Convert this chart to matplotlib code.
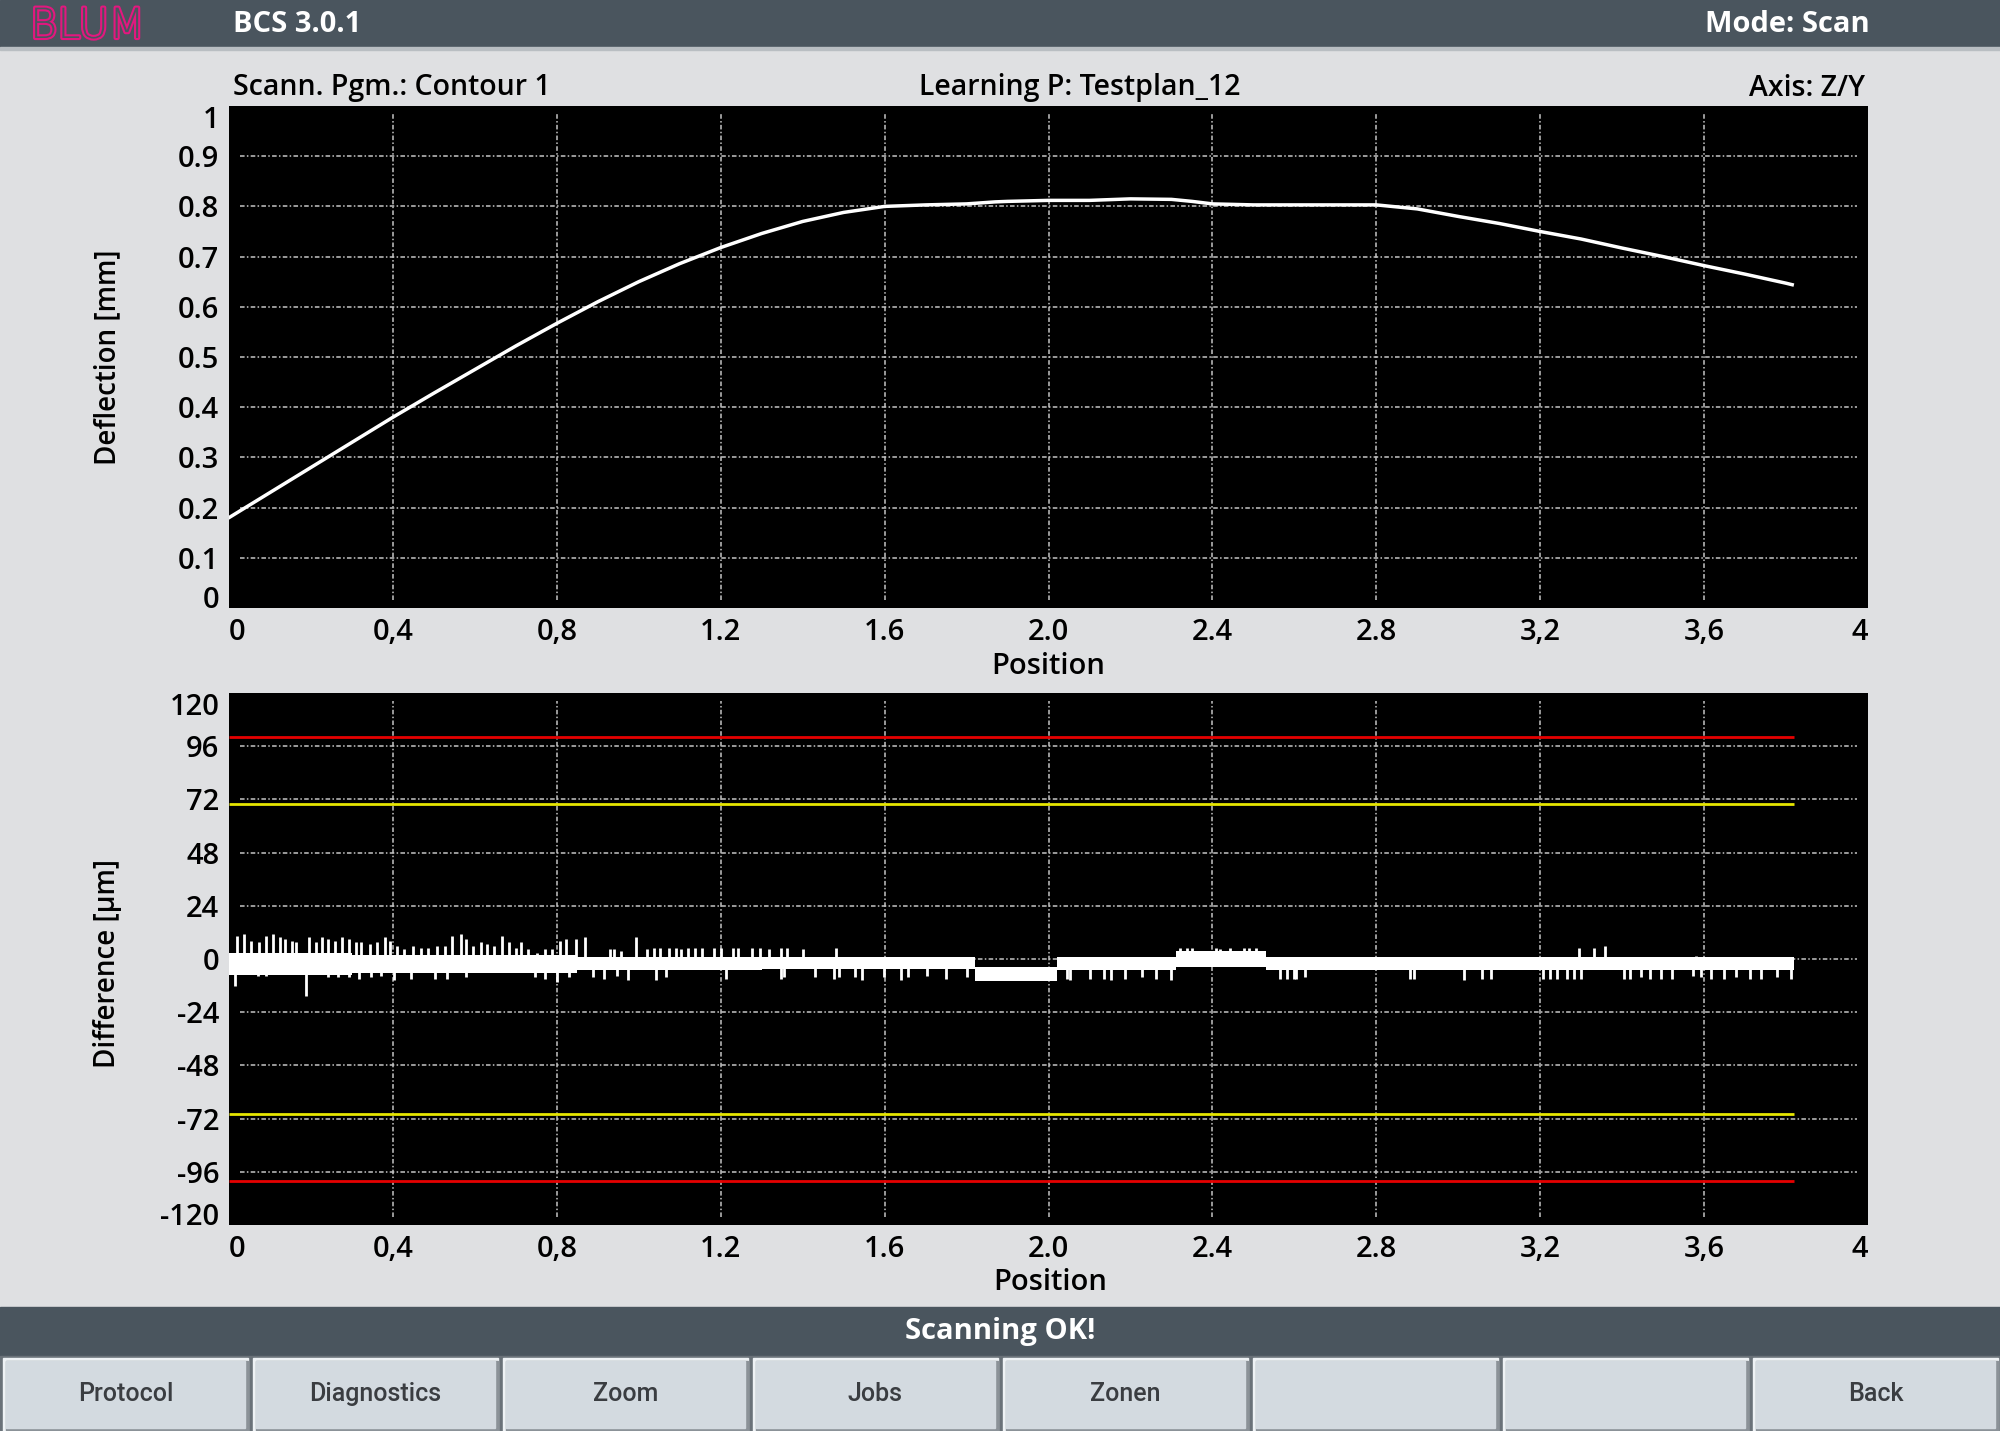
import matplotlib
matplotlib.use("Agg")
import matplotlib.pyplot as plt
import matplotlib.patheffects as pe
from matplotlib.patches import Rectangle

# deflection curve
defl_pos = [0.0, 0.1, 0.2, 0.3, 0.4, 0.5, 0.6, 0.7, 0.8, 0.9, 1.0, 1.1, 1.2, 1.3,
            1.4, 1.5, 1.6, 1.7, 1.8, 1.87, 1.9, 2.0, 2.1, 2.2, 2.3, 2.35, 2.4,
            2.5, 2.6, 2.7, 2.8, 2.9, 3.0, 3.1, 3.2, 3.3, 3.4, 3.5, 3.6, 3.7,
            3.8, 3.815]
defl_mm = [0.180, 0.230, 0.280, 0.330, 0.380, 0.428, 0.475, 0.522, 0.567, 0.610,
           0.650, 0.686, 0.718, 0.746, 0.770, 0.788, 0.800, 0.803, 0.805, 0.809,
           0.810, 0.812, 0.812, 0.815, 0.814, 0.810, 0.805, 0.803, 0.803, 0.803,
           0.803, 0.795, 0.780, 0.766, 0.750, 0.735, 0.717, 0.700, 0.682, 0.665,
           0.647, 0.644]

# difference signal: core band (step segments starting at band_pos)
band_pos = [0.0, 0.3, 0.85, 1.3, 1.82, 2.02, 2.31, 2.53, 3.82]
band_hi = [2.5, 2.0, 1.0, 0.8, -3.5, 0.8, 3.5, 0.8, 0.8]
band_lo = [-7.0, -6.5, -5.0, -4.5, -10.0, -5.0, -3.5, -5.0, -5.0]

# difference signal: spikes (position, µm)
spike_up_pos = [0.019, 0.036, 0.053, 0.074, 0.091, 0.108, 0.125, 0.137, 0.154,
                0.163, 0.196, 0.213, 0.226, 0.242, 0.259, 0.276, 0.293, 0.309,
                0.322, 0.343, 0.360, 0.381, 0.393, 0.410, 0.427, 0.448, 0.469,
                0.486, 0.507, 0.528, 0.545, 0.566, 0.578, 0.595, 0.616, 0.629,
                0.646, 0.667, 0.683, 0.700, 0.713, 0.730, 0.751, 0.772, 0.789,
                0.809, 0.822, 0.847, 0.868, 0.931, 0.940, 0.957, 0.994, 1.020,
                1.036, 1.053, 1.074, 1.091, 1.104, 1.120, 1.137, 1.154, 1.183,
                1.200, 1.230, 1.242, 1.276, 1.297, 1.317, 1.346, 1.363, 1.401,
                1.481, 2.321, 2.338, 2.350, 2.409, 2.418, 2.443, 2.476, 2.489,
                2.506, 3.294, 3.332, 3.358, 3.580]
spike_up_val = [10.6, 11.3, 8.2, 7.5, 10.6, 11.3, 9.8, 9.0, 8.2, 7.5, 9.8, 7.5,
                9.8, 9.0, 8.2, 9.8, 9.0, 7.5, 7.5, 6.7, 7.5, 9.8, 8.2, 5.9, 4.3,
                5.9, 5.1, 5.1, 5.9, 5.9, 10.6, 11.3, 9.0, 5.9, 7.5, 6.7, 5.9,
                10.6, 7.5, 5.1, 7.5, 4.3, 2.8, 4.3, 4.3, 8.2, 9.0, 9.0, 9.8, 4.3,
                4.3, 3.6, 9.8, 4.3, 5.1, 5.1, 5.1, 5.1, 4.3, 5.1, 5.1, 5.1, 5.1,
                5.1, 5.1, 5.1, 5.1, 5.1, 4.3, 5.1, 5.1, 4.3, 5.1, 5.1, 5.1, 5.1,
                5.1, 4.3, 5.1, 5.1, 5.1, 5.1, 5.1, 5.1, 5.9, 1.5]
spike_dn_pos = [0.015, 0.070, 0.091, 0.188, 0.242, 0.267, 0.293, 0.318, 0.347,
                0.372, 0.402, 0.444, 0.503, 0.532, 0.578, 0.746, 0.772, 0.801,
                0.830, 0.889, 0.914, 0.948, 0.973, 1.041, 1.066, 1.213, 1.346,
                1.355, 1.430, 1.476, 1.489, 1.527, 1.544, 1.598, 1.640, 1.657,
                1.703, 1.750, 1.800, 2.044, 2.052, 2.102, 2.136, 2.153, 2.186,
                2.228, 2.262, 2.300, 2.565, 2.581, 2.598, 2.605, 2.626, 2.883,
                2.891, 3.013, 3.059, 3.080, 3.206, 3.223, 3.240, 3.265, 3.282,
                3.299, 3.404, 3.420, 3.446, 3.467, 3.496, 3.521, 3.572, 3.593,
                3.618, 3.648, 3.677, 3.711, 3.740, 3.778, 3.811]
spike_dn_val = [-12.0, -7.6, -7.6, -16.5, -8.2, -8.2, -8.2, -8.9, -8.2, -7.6,
                -9.6, -8.9, -8.9, -8.9, -8.2, -8.2, -8.9, -10.4, -8.2, -8.2,
                -8.9, -7.6, -9.6, -9.6, -8.2, -8.9, -8.9, -8.2, -8.2, -8.9, -8.2,
                -8.2, -9.6, -8.2, -9.6, -8.2, -7.6, -8.9, -8.2, -8.9, -9.6, -8.9,
                -8.9, -9.6, -8.9, -8.2, -8.9, -9.6, -8.9, -8.9, -8.9, -8.9, -8.2,
                -8.9, -8.9, -9.6, -8.9, -8.9, -8.9, -8.9, -8.9, -8.9, -8.9, -8.9,
                -8.9, -8.9, -8.2, -8.9, -8.9, -8.9, -7.6, -8.2, -8.9, -8.9, -8.2,
                -8.9, -8.9, -8.2, -8.9]

limit_end = 3.82
warn_limits = [70, -70]
error_limits = [100, -100]

x_ticks = [0, 0.4, 0.8, 1.2, 1.6, 2.0, 2.4, 2.8, 3.2, 3.6, 4]
x_labels = ["0", "0,4", "0,8", "1.2", "1.6", "2.0", "2.4", "2.8", "3,2", "3,6", "4"]
defl_ticks = [0, 0.1, 0.2, 0.3, 0.4, 0.5, 0.6, 0.7, 0.8, 0.9, 1]
defl_labels = ["0", "0.1", "0.2", "0.3", "0.4", "0.5", "0.6", "0.7", "0.8", "0.9", "1"]
diff_ticks = [-120, -96, -72, -48, -24, 0, 24, 48, 72, 96, 120]
diff_labels = ["-120", "-96", "-72", "-48", "-24", "0", "24", "48", "72", "96", "120"]

buttons = ["Protocol", "Diagnostics", "Zoom", "Jobs", "Zonen", "", "", "Back"]

W, H = 2000, 1431
BG = "#dfe0e2"
BAR = "#4a555e"
FONT = ["Open Sans", "DejaVu Sans"]

plt.rcParams["font.family"] = FONT

fig = plt.figure(figsize=(W / 100, H / 100), dpi=100, facecolor=BG)


def ft(x, y, s, **kw):
    fig.text(x / W, 1 - y / H, s, **kw)


def rect(x0, y0, x1, y1, **kw):
    fig.patches.append(Rectangle((x0 / W, 1 - y1 / H), (x1 - x0) / W, (y1 - y0) / H,
                                 transform=fig.transFigure, **kw))


# title bar, status bar, button strip
rect(0, 0, W, 47, color=BAR, zorder=0)
rect(0, 47, W, 50, color="#b9bec2", zorder=0)
rect(0, 1307, W, 1356, color=BAR, zorder=0)
rect(0, 1356, W, H, color="#6a7279", zorder=0)
for i, name in enumerate(buttons):
    x0 = i * 250 + 3
    x1 = (i + 1) * 250 - 2
    rect(x0, 1358, x1, H, color="#eef2f5", zorder=1)
    rect(x0 + 3, 1361, x1, H, color="#8b9298", zorder=1)
    rect(x0 + 3, 1361, x1 - 3, H - 3, color="#d3dae0", zorder=1)
    if name:
        ft((x0 + x1) / 2, 1394, name, ha="center", va="center", fontsize=18,
           color="#3a3d41", family=["Liberation Sans Narrow", "Roboto", "DejaVu Sans"],
           fontweight="medium")

ft(30, 38, "BLUM", ha="left", va="baseline", fontsize=30, color=BAR,
   family=["DejaVu Sans"], fontweight="light",
   path_effects=[pe.Stroke(linewidth=3, foreground="#e2187f"), pe.Normal()])
ft(233, 24, "BCS 3.0.1", ha="left", va="center", fontsize=21, color="white",
   fontweight="bold")
ft(1870, 24, "Mode: Scan", ha="right", va="center", fontsize=21, color="white",
   fontweight="bold")
ft(1000, 1332, "Scanning OK!", ha="center", va="center", fontsize=21,
   color="white", fontweight="bold")

ft(233, 88, "Scann. Pgm.: Contour 1", ha="left", va="center", fontsize=20.5,
   fontweight="semibold")
ft(1080, 88, "Learning P: Testplan_12", ha="center", va="center", fontsize=20.5,
   fontweight="semibold")
ft(1865, 88, "Axis: Z/Y", ha="right", va="center", fontsize=20.5,
   fontweight="semibold")

ft(108, 357, "Deflection [mm]", ha="center", va="center", rotation=90,
   fontsize=20, fontweight="semibold")
ft(108, 963, "Difference [µm]", ha="center", va="center", rotation=90,
   fontsize=20, fontweight="semibold")
ft(1048, 666, "Position", ha="center", va="center", fontsize=21,
   fontweight="semibold")
ft(1050, 1282, "Position", ha="center", va="center", fontsize=21,
   fontweight="semibold")

ax1 = fig.add_axes([229 / W, 1 - 608 / H, 1639 / W, 502 / H], facecolor="black")
ax2 = fig.add_axes([229 / W, 1 - 1225 / H, 1639 / W, 532 / H], facecolor="black")

GRID = dict(color="#c4c4c4", lw=1.1, linestyle=(0, (3, 1.5, 1, 1.5)), zorder=1)


def style(ax, yticks, ylabels, ylim):
    ax.set_xlim(0, 4)
    ax.set_ylim(*ylim)
    ax.set_xticks(x_ticks)
    ax.set_xticklabels(x_labels)
    ax.set_yticks(yticks)
    ax.set_yticklabels(ylabels)
    ax.tick_params(length=0, labelsize=21, pad=7)
    for lab in ax.get_xticklabels() + ax.get_yticklabels():
        lab.set_fontweight("semibold")
    xl = ax.get_xticklabels()
    xl[0].set_ha("left")
    xl[-1].set_ha("right")
    yl = ax.get_yticklabels()
    yl[0].set_va("baseline")
    yl[-1].set_va("top")
    for s in ax.spines.values():
        s.set_visible(False)
    for t in x_ticks[1:-1]:
        ax.axvline(t, ymin=0.015, ymax=0.985, **GRID)
    for t in yticks[1:-1]:
        ax.axhline(t, xmin=0.007, xmax=0.993, **GRID)


style(ax1, defl_ticks, defl_labels, (0, 1))
style(ax2, diff_ticks, diff_labels, (-120, 120))

ax1.plot(defl_pos, defl_mm, color="white", lw=2.5, zorder=3)

for v in error_limits:
    ax2.hlines(v, 0, limit_end, color="#e60000", lw=2, zorder=2)
for v in warn_limits:
    ax2.hlines(v, 0, limit_end, color="#e6e600", lw=2, zorder=2)

ax2.fill_between(band_pos, band_lo, band_hi, step="post", color="white", lw=0,
                 zorder=3)
ax2.vlines(spike_up_pos, 0, spike_up_val, color="white", lw=2, zorder=3)
ax2.vlines(spike_dn_pos, -3, spike_dn_val, color="white", lw=2, zorder=3)

fig.savefig("out.png", dpi=100, facecolor=BG)
